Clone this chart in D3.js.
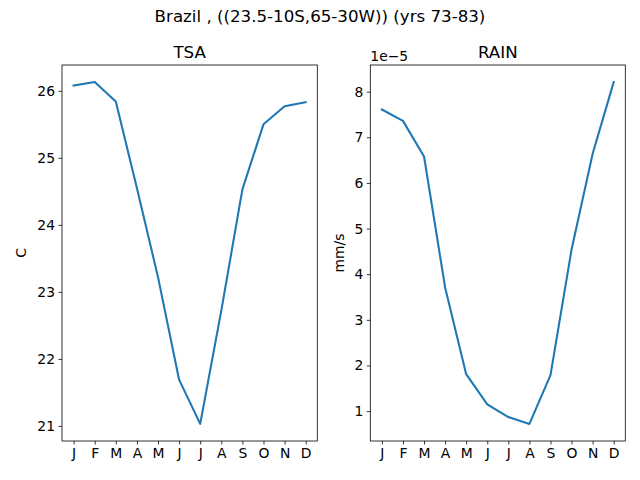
<!DOCTYPE html>
<html><head><meta charset="utf-8">
<script src="https://cdn.jsdelivr.net/npm/d3@7"></script>
<style>body{margin:0;background:#fff}svg{display:block;font-family:"DejaVu Sans",sans-serif}</style>
</head><body><svg id="c" width="640" height="480"></svg>
<script>
const months = ["J","F","M","A","M","J","J","A","S","O","N","D"];
const tsa = [26.08, 26.13, 25.84, 24.55, 23.22, 21.69, 21.03, 22.72, 24.53, 25.50, 25.77, 25.83];
const rain = [7.61, 7.36, 6.58, 3.71, 1.81, 1.15, 0.87, 0.72, 1.79, 4.54, 6.64, 8.21]; // x 1e-5
const tsaTicks = [21, 22, 23, 24, 25, 26];
const rainTicks = [1, 2, 3, 4, 5, 6, 7, 8];
const suptitle = "Brazil , ((23.5-10S,65-30W)) (yrs 73-83)";

const svg = d3.select("#c");
svg.append("text").attr("x", 320).attr("y", 22).attr("text-anchor", "middle")
  .attr("font-size", 16.67).text(suptitle);

function panel(x0, x1, y0, y1, data, ticks, title, ylabel, offsetLabel) {
  const idx = d3.range(data.length);
  const xs = d3.scaleLinear().domain([-0.55, 11.55]).range([x0, x1]);
  const lo = d3.min(data), hi = d3.max(data), m = (hi - lo) * 0.05;
  const ys = d3.scaleLinear().domain([lo - m, hi + m]).range([y1, y0]);
  const g = svg.append("g");
  const xa = g.append("g").attr("transform", `translate(0,${y1})`)
    .call(d3.axisBottom(xs).tickValues(idx).tickFormat(i => months[i]).tickSize(3.5).tickPadding(3.5));
  const ya = g.append("g").attr("transform", `translate(${x0},0)`)
    .call(d3.axisLeft(ys).tickValues(ticks).tickFormat(d3.format("d")).tickSize(3.5).tickPadding(3.5));
  [xa, ya].forEach(a => {
    a.select(".domain").remove();
    a.selectAll("text").attr("font-size", 13.9).attr("font-family", "DejaVu Sans").attr("fill", "#000");
    a.selectAll("line").attr("stroke", "#000").attr("stroke-width", 0.8);
  });
  g.append("path").datum(idx).attr("fill", "none").attr("stroke", "#1f77b4")
    .attr("stroke-width", 2.08).attr("stroke-linejoin", "round").attr("stroke-linecap", "square")
    .attr("d", d3.line().x(i => xs(i)).y(i => ys(data[i])));
  g.append("rect").attr("x", x0).attr("y", y0).attr("width", x1 - x0).attr("height", y1 - y0)
    .attr("fill", "none").attr("stroke", "#000").attr("stroke-width", 0.8);
  g.append("text").attr("x", (x0 + x1) / 2).attr("y", y0 - 7).attr("text-anchor", "middle")
    .attr("font-size", 16.67).text(title);
  const yl = ylabel === "C" ? x0 - 36 : x0 - 26;
  g.append("text").attr("transform", `translate(${yl},${(y0 + y1) / 2}) rotate(-90)`)
    .attr("text-anchor", "middle").attr("font-size", 13.9).text(ylabel);
  if (offsetLabel) {
    g.append("text").attr("x", x0).attr("y", y0 - 4).attr("font-size", 13.9).text(offsetLabel);
  }
}
panel(62, 317.3, 65, 441, tsa, tsaTicks, "TSA", "C", null);
panel(370.3, 625.3, 65, 441, rain, rainTicks, "RAIN", "mm/s", "1e\u22125");
</script></body></html>
